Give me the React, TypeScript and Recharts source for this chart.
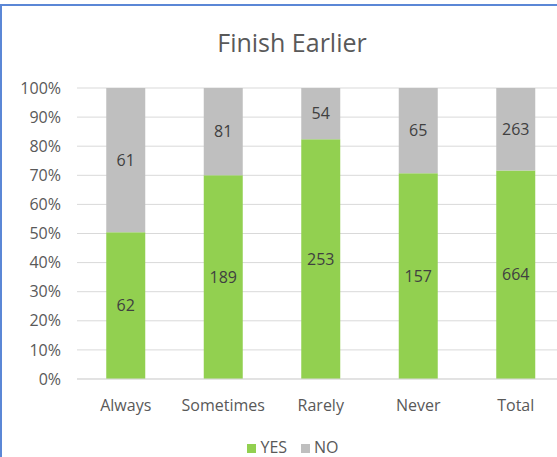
import React from 'react';
import { BarChart, Bar, XAxis, YAxis, CartesianGrid, Legend, LabelList } from 'recharts';

const categories = ['Always', 'Sometimes', 'Rarely', 'Never', 'Total'];
const yesValues = [62, 189, 253, 157, 664];
const noValues = [61, 81, 54, 65, 263];
const yTicks = [0, 0.1, 0.2, 0.3, 0.4, 0.5, 0.6, 0.7, 0.8, 0.9, 1];
const seriesOrder = ['YES', 'NO'];

const data = categories.map((name, i) => ({ name, YES: yesValues[i], NO: noValues[i] }));

const FONT = '"Open Sans", sans-serif';
const TEXT = '#595959';

export default function App() {
  return (
    <div
      style={{
        position: 'absolute',
        left: 0,
        top: 0,
        width: 557,
        height: 457,
        overflow: 'hidden',
        background: '#ffffff',
        fontFamily: FONT,
      }}
    >
      <div style={{ position: 'absolute', left: 0, top: 4, width: 557, height: 2, background: '#5B87D6' }} />
      <div style={{ position: 'absolute', left: 0, top: 4, width: 2, height: 453, background: '#5B87D6' }} />
      <div
        style={{
          position: 'absolute',
          left: 0,
          top: 30,
          width: 584,
          textAlign: 'center',
          fontSize: 25,
          lineHeight: 1,
          color: TEXT,
          fontFamily: FONT,
        }}
      >
        Finish Earlier
      </div>
      <div style={{ position: 'absolute', left: 0, top: 0 }}>
        <BarChart
          width={584}
          height={457}
          data={data}
          stackOffset="expand"
          barCategoryGap="30%"
          margin={{ top: 88, right: 19.5, left: 0, bottom: 48 }}
        >
          <CartesianGrid vertical={false} stroke="#D9D9D9" />
          <XAxis
            dataKey="name"
            height={30}
            tickLine={false}
            axisLine={{ stroke: '#D9D9D9' }}
            tickMargin={15}
            tick={{ fill: TEXT, fontSize: 16, fontFamily: FONT }}
          />
          <YAxis
            width={77}
            domain={[0, 1]}
            ticks={yTicks}
            tickFormatter={(v: number) => `${Math.round(v * 100)}%`}
            axisLine={false}
            tickLine={false}
            tickMargin={10}
            tick={{ fill: TEXT, fontSize: 16, fontFamily: FONT }}
          />
          <Legend
            layout="horizontal"
            verticalAlign="middle"
            align="center"
            iconType="square"
            iconSize={9}
            itemSorter={(item: any) => seriesOrder.indexOf(item.value)}
            wrapperStyle={{ top: 439, left: 8, width: 584, fontSize: 16, lineHeight: '16px', fontFamily: FONT }}
            formatter={(value: string) => <span style={{ color: TEXT, marginRight: 4 }}>{value}</span>}
          />
          <Bar dataKey="YES" stackId="a" fill="#92D050" isAnimationActive={false}>
            <LabelList dataKey="YES" position="center" fill="#404040" fontSize={16} fontFamily={FONT} />
          </Bar>
          <Bar dataKey="NO" stackId="a" fill="#BFBFBF" isAnimationActive={false}>
            <LabelList dataKey="NO" position="center" fill="#404040" fontSize={16} fontFamily={FONT} />
          </Bar>
        </BarChart>
      </div>
    </div>
  );
}
